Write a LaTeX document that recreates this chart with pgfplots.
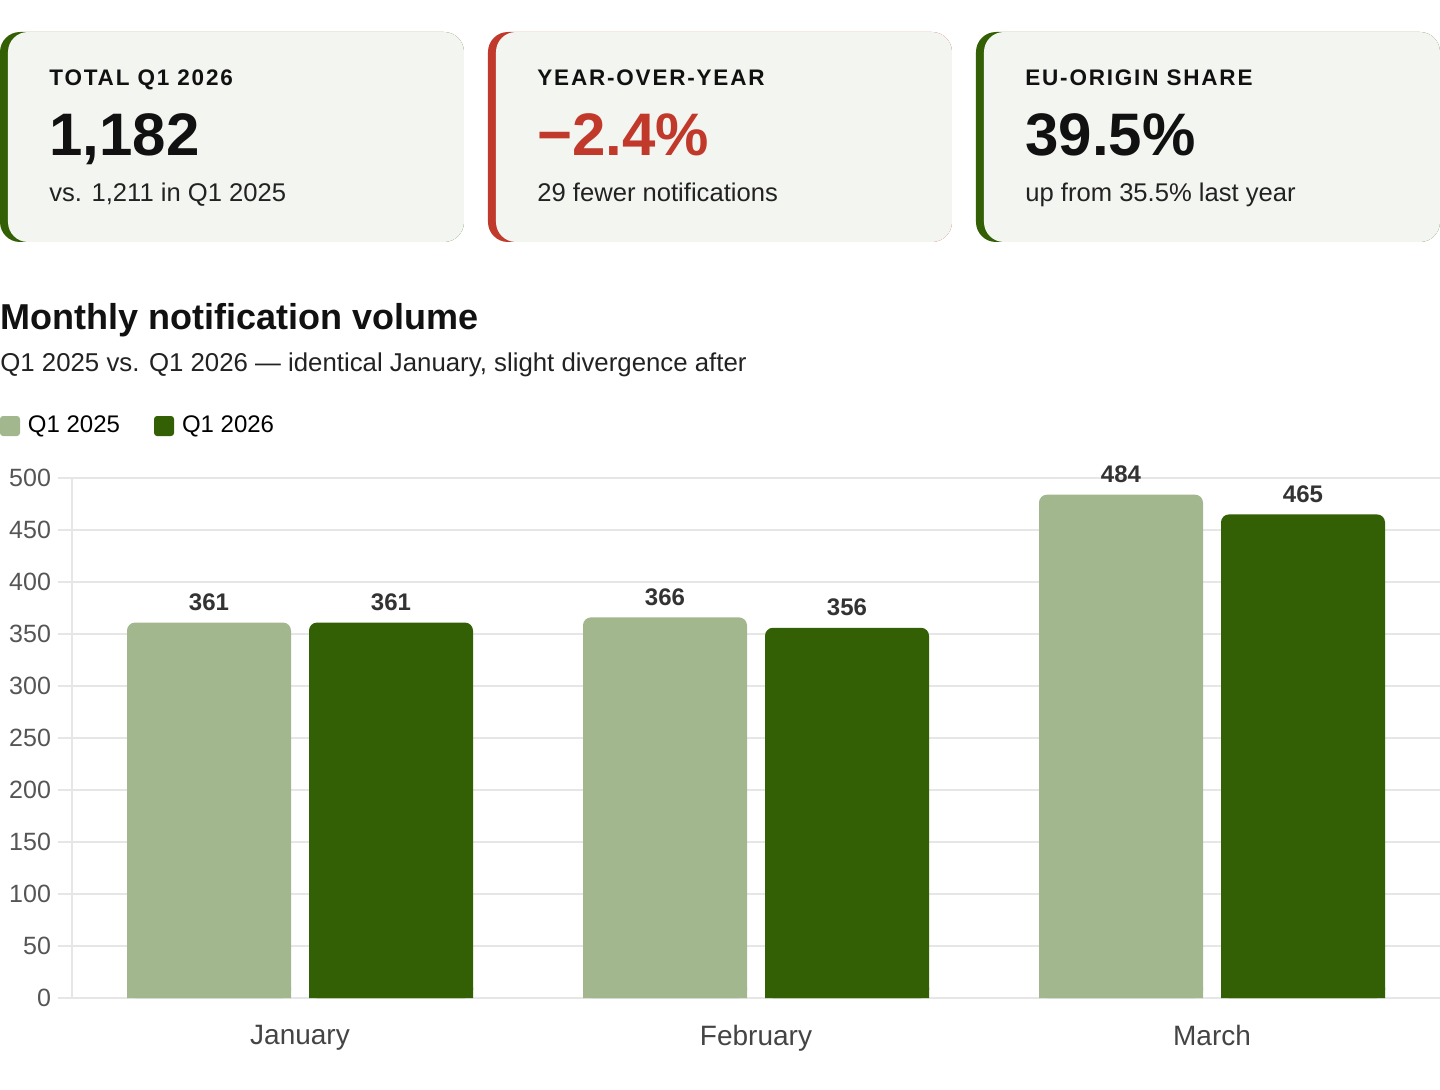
\documentclass[border=0pt]{standalone}
\usepackage{fontspec}
\setmainfont{Liberation Sans}
\usepackage{pgfplots}
\usepackage{pgfplotstable}
\pgfplotsset{compat=1.18}
\definecolor{lightbar}{HTML}{A3B78F}
\definecolor{darkbar}{HTML}{336005}
\definecolor{cardbg}{HTML}{F3F5F1}
\definecolor{redtxt}{HTML}{C0392B}
\definecolor{gridc}{HTML}{E6E6E6}
\definecolor{ticktxt}{HTML}{555555}
\definecolor{cattxt}{HTML}{444444}
\definecolor{valtxt}{HTML}{333333}
\definecolor{maintxt}{HTML}{111111}
\definecolor{subtxt}{HTML}{222222}

\pgfplotstableread{
x y
0 361
1 366
2 484
}\qa
\pgfplotstableread{
x y
0 361
1 356
2 465
}\qb

\newcommand{\cardlabel}{\fontsize{11.25bp}{13bp}\selectfont\bfseries\addfontfeatures{LetterSpace=8}}
\newcommand{\cardbig}{\fontsize{30bp}{34bp}\selectfont\bfseries}
\newcommand{\cardsub}{\fontsize{12.8bp}{15bp}\selectfont}

\begin{document}
\begin{tikzpicture}
\useasboundingbox (0,0) rectangle (720bp,-545bp);
\begin{scope}[x=0.5bp,y=-0.5bp]
\foreach \x/\c in {0/darkbar,488/redtxt,976/darkbar}{
  \fill[\c, rounded corners=10bp] (\x,32) rectangle (\x+464,242);
  \fill[cardbg, rounded corners=10bp] (\x+8,32) rectangle (\x+464,242);
}
\node[anchor=base west, inner sep=0, text=maintxt, font=\cardlabel] at (49,86) {TOTAL Q1 2026};
\node[anchor=base west, inner sep=0, text=maintxt, font=\cardbig] at (49,156) {1,182};
\node[anchor=base west, inner sep=0, text=subtxt, font=\cardsub] at (49,202) {vs. 1,211 in Q1 2025};

\node[anchor=base west, inner sep=0, text=maintxt, font=\cardlabel] at (537,86) {YEAR-OVER-YEAR};
\node[anchor=base west, inner sep=0, text=redtxt, font=\cardbig] at (537,156) {−2.4\%};
\node[anchor=base west, inner sep=0, text=subtxt, font=\cardsub] at (537,202) {29 fewer notifications};

\node[anchor=base west, inner sep=0, text=maintxt, font=\cardlabel] at (1025,86) {EU-ORIGIN SHARE};
\node[anchor=base west, inner sep=0, text=maintxt, font=\cardbig] at (1025,156) {39.5\%};
\node[anchor=base west, inner sep=0, text=subtxt, font=\cardsub] at (1025,202) {up from 35.5\% last year};

\node[anchor=base west, inner sep=0, text=maintxt, font=\fontsize{18bp}{21bp}\selectfont\bfseries] at (0,330) {Monthly notification volume};
\node[anchor=base west, inner sep=0, text=subtxt, font=\fontsize{12.9bp}{15bp}\selectfont] at (0,372) {Q1 2025 vs. Q1 2026 — identical January, slight divergence after};
\end{scope}

\begin{axis}[
  scale only axis, width=684bp, height=260bp,
  at={(36bp,-499bp)}, anchor=south west,
  xmin=-0.5, xmax=2.5, ymin=0, ymax=500,
  xtick={0,1,2}, xticklabels={January,February,March},
  ytick={0,50,...,500},
  axis x line*=bottom, axis y line*=left,
  axis line style={draw=gridc, line width=1bp},
  ymajorgrids, grid style={draw=gridc, line width=0.8bp},
  xtick style={draw=none},
  ytick style={draw=gridc, line width=0.8bp},
  tick align=outside, major tick length=7bp,
  y tick label style={font=\fontsize{12.5bp}{14bp}\selectfont, text=ticktxt},
  x tick label style={font=\fontsize{14bp}{16bp}\selectfont, text=cattxt, yshift=-3bp},
  /pgf/number format/assume math mode=true,
  clip=false,
  legend columns=2,
  legend style={at={(axis description cs:-0.05263,1.1)}, anchor=west, draw=none, fill=none,
    inner sep=0pt, outer sep=0pt, font=\fontsize{12bp}{14bp}\selectfont,
    /tikz/every odd column/.append style={column sep=2bp},
    /tikz/every even column/.append style={column sep=15bp}},
  legend cell align=left,
]
\addplot[ybar, bar width=82bp, bar shift=-45.5bp, fill=lightbar, draw=none, rounded corners=4bp,
  legend image code/.code={\fill[lightbar, rounded corners=1.5bp] (0bp,-5bp) rectangle (10bp,5bp);},
  nodes near coords, every node near coord/.append style={font=\bfseries\fontsize{12bp}{14bp}\selectfont, text=valtxt, xshift=-45.5bp, yshift=2.5bp}]
  table[x=x,y=y]{\qa};
\addlegendentry{Q1 2025}
\addplot[ybar, bar width=82bp, bar shift=45.5bp, fill=darkbar, draw=none, rounded corners=4bp,
  legend image code/.code={\fill[darkbar, rounded corners=1.5bp] (0bp,-5bp) rectangle (10bp,5bp);},
  nodes near coords, every node near coord/.append style={font=\bfseries\fontsize{12bp}{14bp}\selectfont, text=valtxt, xshift=45.5bp, yshift=2.5bp}]
  table[x=x,y=y]{\qb};
\addlegendentry{Q1 2026}
% square-cornered bases so that only the top corners of the bars are rounded
\addplot[ybar, bar width=82bp, bar shift=-45.5bp, fill=lightbar, draw=none, forget plot]
  coordinates {(0,10) (1,10) (2,10)};
\addplot[ybar, bar width=82bp, bar shift=45.5bp, fill=darkbar, draw=none, forget plot]
  coordinates {(0,10) (1,10) (2,10)};
\end{axis}
\end{tikzpicture}
\end{document}
